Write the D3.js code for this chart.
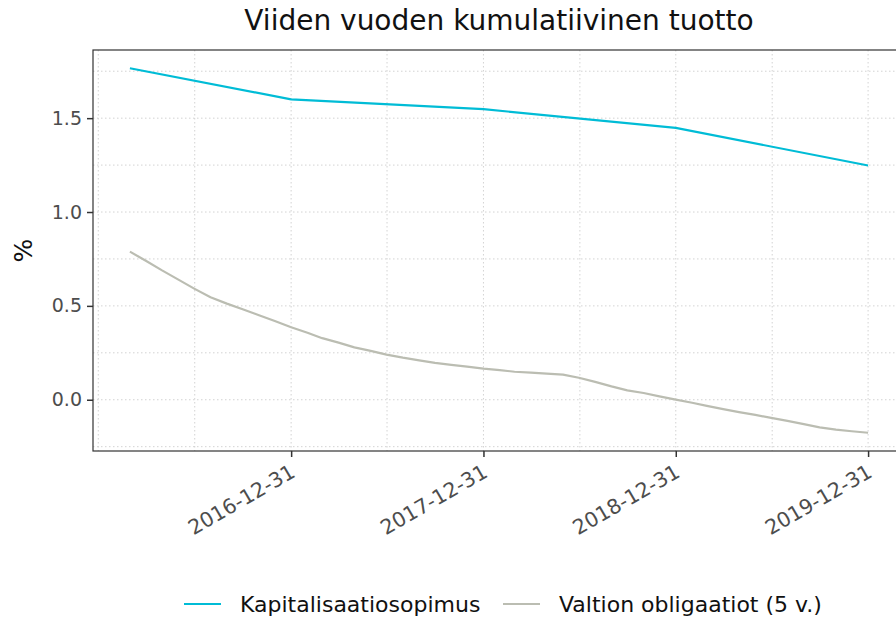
<!DOCTYPE html>
<html>
<head>
<meta charset="utf-8">
<script src="https://cdn.jsdelivr.net/npm/d3@7"></script>
<style>
  body { margin: 0; background: #fff; }
  svg { font-family: "DejaVu Sans", sans-serif; }
</style>
</head>
<body>
<svg id="chart" width="896" height="618"></svg>
<script>
// data
const capDates = ["2016-02-29", "2016-12-31", "2017-12-31", "2018-12-31", "2019-12-31"];
const capValues = [1.766, 1.600, 1.548, 1.448, 1.248];

const bondDates = [
  "2016-02-29", "2016-03-31", "2016-04-30", "2016-05-31", "2016-06-30", "2016-07-31",
  "2016-08-31", "2016-09-30", "2016-10-31", "2016-11-30", "2016-12-31",
  "2017-01-31", "2017-02-28", "2017-03-31", "2017-04-30", "2017-05-31", "2017-06-30",
  "2017-07-31", "2017-08-31", "2017-09-30", "2017-10-31", "2017-11-30", "2017-12-31",
  "2018-01-31", "2018-02-28", "2018-03-31", "2018-04-30", "2018-05-31", "2018-06-30",
  "2018-07-31", "2018-08-31", "2018-09-30", "2018-10-31", "2018-11-30", "2018-12-31",
  "2019-01-31", "2019-02-28", "2019-03-31", "2019-04-30", "2019-05-31", "2019-06-30",
  "2019-07-31", "2019-08-31", "2019-09-30", "2019-10-31", "2019-11-30", "2019-12-31"
];
const bondValues = [
  0.789, 0.739, 0.689, 0.640, 0.592, 0.546, 0.512, 0.482, 0.450, 0.419, 0.386,
  0.357, 0.328, 0.304, 0.279, 0.260, 0.240, 0.224, 0.210, 0.196, 0.186, 0.176, 0.166,
  0.158, 0.149, 0.144, 0.139, 0.134, 0.117, 0.095, 0.071, 0.050, 0.036, 0.018, 0.001,
  -0.016, -0.033, -0.050, -0.066, -0.081, -0.097, -0.113, -0.130, -0.147, -0.159, -0.168, -0.176
];

const seriesNames = ["Kapitalisaatiosopimus", "Valtion obligaatiot (5 v.)"];
const seriesColors = ["#00bcd6", "#bbbdb2"];
const xTickLabels = ["2016-12-31", "2017-12-31", "2018-12-31", "2019-12-31"];
const xMinorLabels = ["2015-12-31", "2016-07-01", "2017-07-01", "2018-07-02", "2019-07-02"];
const yTicks = [0, 0.5, 1.0, 1.5];
const yMinor = [-0.25, 0.25, 0.75, 1.25, 1.75];

const parse = d3.timeParse("%Y-%m-%d");
const cap = capDates.map((d, i) => ({date: parse(d), value: capValues[i]}));
const bond = bondDates.map((d, i) => ({date: parse(d), value: bondValues[i]}));

const svg = d3.select("#chart");
const pLeft = 93, pRight = 905, pTop = 50, pBottom = 451;

// ggplot style 5% expansion
const xExt = d3.extent(cap.concat(bond), d => d.date);
const xPad = (xExt[1] - xExt[0]) * 0.05;
const x = d3.scaleTime()
  .domain([new Date(+xExt[0] - xPad), new Date(+xExt[1] + xPad)])
  .range([pLeft, pRight]);

const yExt = d3.extent(cap.concat(bond), d => d.value);
const yPad = (yExt[1] - yExt[0]) * 0.05;
const y = d3.scaleLinear()
  .domain([yExt[0] - yPad, yExt[1] + yPad])
  .range([pBottom, pTop]);

svg.append("defs").append("clipPath").attr("id", "panel")
  .append("rect").attr("x", pLeft).attr("y", pTop).attr("width", pRight - pLeft).attr("height", pBottom - pTop);

// grid
const grid = svg.append("g").attr("clip-path", "url(#panel)")
  .attr("stroke", "#c8c8c8").attr("stroke-width", 0.8).attr("stroke-dasharray", "1.5,2.5");
grid.selectAll(".hy").data(yTicks.concat(yMinor)).join("line")
  .attr("x1", pLeft).attr("x2", pRight)
  .attr("y1", d => y(d)).attr("y2", d => y(d));
grid.selectAll(".vx").data(xTickLabels.concat(xMinorLabels)).join("line")
  .attr("y1", pTop).attr("y2", pBottom)
  .attr("x1", d => x(parse(d))).attr("x2", d => x(parse(d)));

// lines
const line = d3.line().x(d => x(d.date)).y(d => y(d.value));
svg.append("g").attr("clip-path", "url(#panel)")
  .selectAll("path").data([bond, cap]).join("path")
  .attr("d", line)
  .attr("fill", "none")
  .attr("stroke", (d, i) => seriesColors[1 - i])
  .attr("stroke-width", 2.2)
  .attr("stroke-linejoin", "round");

// panel border
svg.append("rect")
  .attr("x", pLeft).attr("y", pTop).attr("width", pRight - pLeft).attr("height", pBottom - pTop)
  .attr("fill", "none").attr("stroke", "#333").attr("stroke-width", 1.2);

// y axis
const yAxis = svg.append("g").attr("transform", `translate(${pLeft},0)`)
  .call(d3.axisLeft(y).tickValues(yTicks).tickFormat(d3.format(".1f")).tickSize(6).tickPadding(5));
yAxis.select(".domain").remove();
yAxis.selectAll(".tick line").attr("stroke", "#333").attr("stroke-width", 1.5);
yAxis.selectAll(".tick text").attr("fill", "#4d4d4d").style("font-size", "19px")
  .style("font-family", "DejaVu Sans");

// x axis
const xAxis = svg.append("g").attr("transform", `translate(0,${pBottom})`)
  .call(d3.axisBottom(x).tickValues(xTickLabels.map(parse)).tickFormat(d3.timeFormat("%Y-%m-%d")).tickSize(6));
xAxis.select(".domain").remove();
xAxis.selectAll(".tick line").attr("stroke", "#333").attr("stroke-width", 1.5);
xAxis.selectAll(".tick text")
  .attr("fill", "#4d4d4d").style("font-size", "20.5px").style("font-family", "DejaVu Sans")
  .attr("text-anchor", "end").attr("dy", null).attr("y", 0)
  .attr("transform", "translate(5,25) rotate(-30)");

// title
svg.append("text")
  .attr("x", (pLeft + pRight) / 2).attr("y", 30)
  .attr("text-anchor", "middle")
  .attr("fill", "#111").style("font-size", "28px")
  .text("Viiden vuoden kumulatiivinen tuotto");

// y label
svg.append("text")
  .attr("transform", `translate(32,${(pTop + pBottom) / 2}) rotate(-90)`)
  .attr("text-anchor", "middle")
  .attr("fill", "#111").style("font-size", "25px")
  .text("%");

// legend
const legendX = [184, 503];
const leg = svg.append("g").selectAll("g").data(seriesNames).join("g")
  .attr("transform", (d, i) => `translate(${legendX[i]},604)`);
leg.append("line").attr("x1", 0).attr("x2", 37).attr("y1", 0).attr("y2", 0)
  .attr("stroke", (d, i) => seriesColors[i]).attr("stroke-width", 2.2);
leg.append("text").attr("x", 56).attr("y", 8)
  .attr("fill", "#111").style("font-size", "22px")
  .text(d => d);
</script>
</body>
</html>
